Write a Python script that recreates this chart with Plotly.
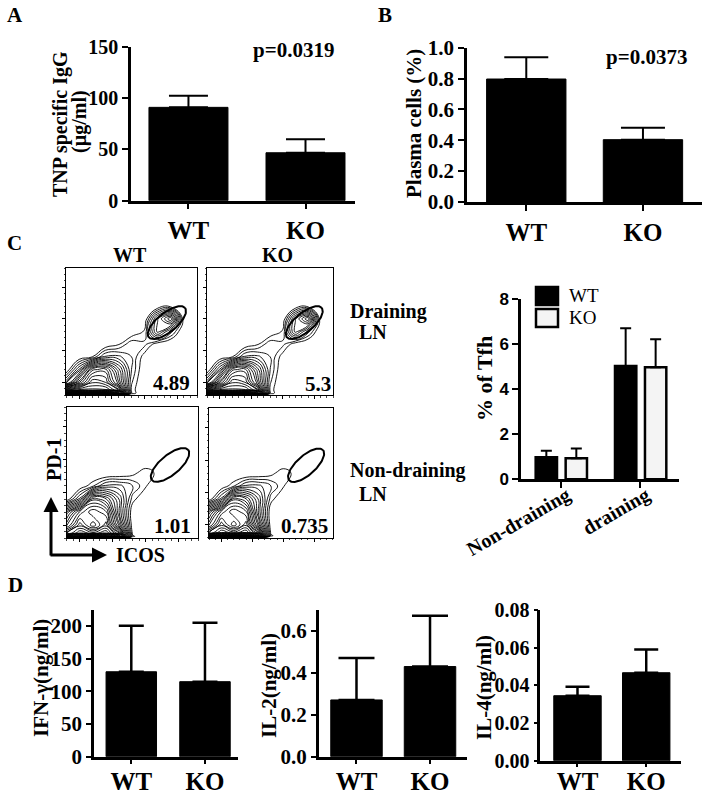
import numpy as np
import plotly.graph_objects as go

W, H = 708, 795
SERIF = "Liberation Serif"
SANS = "Liberation Sans"

# ---------------- data ----------------
groups = ["WT", "KO"]
tnp_igg = [91.1, 46.8]
tnp_igg_err = [11.4, 13.1]
plasma = [0.797, 0.404]
plasma_err = [0.141, 0.077]
tfh_sites = ["Non-draining", "draining"]
tfh_wt = [0.98, 5.03]
tfh_wt_err = [0.29, 1.67]
tfh_ko = [0.93, 4.97]
tfh_ko_err = [0.44, 1.24]
ifng = [130.0, 114.8]
ifng_err = [70.5, 90.0]
il2 = [0.27, 0.429]
il2_err = [0.20, 0.242]
il4 = [0.0345, 0.0467]
il4_err = [0.0048, 0.0123]

flow_pct = ["4.89", "5.3", "1.01", "0.735"]
flow_x = [0, 1, 2, 3, 4, 5, 6, 7, 8, 9, 10]
flow_y = [0, 0.15, 0.4, 1, 2, 3, 4, 5, 6, 7, 8, 10]
draining_density = [
    [0, 0, 0, 0, 0, 0, 0, 0, 0, 0, 0],
    [16, 18, 18, 18, 15, 1.5, 0, 0, 0, 0, 0],
    [11, 12, 12, 12, 10, 1.4, 0, 0, 0, 0, 0],
    [3.2, 7.5, 10.5, 10, 6.5, 1.7, 0, 0, 0, 0, 0],
    [0.2, 3.5, 8, 8.5, 5.5, 2.2, 0.2, 0, 0, 0, 0],
    [0, 0.4, 1.0, 3, 3, 2.2, 0.6, 0, 0, 0, 0],
    [0, 0, 0, 0.3, 0.9, 2.1, 1.8, 0.5, 0, 0, 0],
    [0, 0, 0, 0, 0, 0.3, 1.1, 5, 2.5, 0, 0],
    [0, 0, 0, 0, 0, 0, 0.3, 4.5, 7, 0.3, 0],
    [0, 0, 0, 0, 0, 0, 0, 0.3, 0.6, 0, 0],
    [0, 0, 0, 0, 0, 0, 0, 0, 0, 0, 0],
    [0, 0, 0, 0, 0, 0, 0, 0, 0, 0, 0],
]
nondraining_density = [
    [0, 0, 0, 0, 0, 0, 0, 0, 0, 0, 0],
    [16, 18, 18, 18, 15, 1.2, 0, 0, 0, 0, 0],
    [11, 13, 12, 13, 10, 0.8, 0, 0, 0, 0, 0],
    [8, 11, 9, 11, 6, 0.5, 0, 0, 0, 0, 0],
    [6, 9, 10.5, 9.5, 4.5, 0.4, 0, 0, 0, 0, 0],
    [0.4, 3, 8, 7, 4.5, 1.3, 0.2, 0, 0, 0, 0],
    [0, 0.4, 1.5, 3, 3, 2.2, 1.1, 0, 0, 0, 0],
    [0, 0, 0, 0, 0.2, 0.7, 1.5, 0.7, 0, 0, 0],
    [0, 0, 0, 0, 0, 0, 0, 0, 0, 0, 0],
    [0, 0, 0, 0, 0, 0, 0, 0, 0, 0, 0],
    [0, 0, 0, 0, 0, 0, 0, 0, 0, 0, 0],
    [0, 0, 0, 0, 0, 0, 0, 0, 0, 0, 0],
]
gate_center_top = (7.7, 5.7)
gate_center_bottom = (7.85, 5.6)
gate_semi_axes = (1.8, 0.75)
gate_angle_deg = 40


def X(px):
    return px / W


def Y(py):
    return 1 - py / H


fig = go.Figure()
layout = {}


def bar_axes(n, xdom, ydom, xrange, yrange, dtick, fmt, tickfont_size=20,
             xfont_size=25, standoff=None, shift=None, yfont=SERIF, cat_text=groups,
             xangle=0, xfam=SERIF, ticklen=6):
    xa = dict(domain=[X(xdom[0]), X(xdom[1])], range=xrange, anchor=f"y{n}",
              showline=True, linecolor="black", linewidth=2.5, ticks="outside",
              ticklen=ticklen, tickwidth=2, tickcolor="black", tickvals=[0, 1],
              ticktext=cat_text, showgrid=False, zeroline=False, automargin=False,
              tickangle=xangle,
              tickfont=dict(family=xfam, size=xfont_size, color="black", weight="bold"))
    if standoff is not None:
        xa["ticklabelstandoff"] = standoff
    if shift is not None:
        xa["ticklabelshift"] = shift
    ya = dict(domain=[Y(ydom[0]), Y(ydom[1])], range=yrange, anchor=f"x{n}",
              showline=True, linecolor="black", linewidth=2.5, ticks="outside",
              ticklen=ticklen, tickwidth=2, tickcolor="black", dtick=dtick, tick0=0,
              tickformat=fmt, showgrid=False, zeroline=False, automargin=False,
              tickfont=dict(family=yfont, size=tickfont_size, color="black", weight="bold"))
    layout["xaxis" if n == 1 else f"xaxis{n}"] = xa
    layout["yaxis" if n == 1 else f"yaxis{n}"] = ya


def add_bar(n, vals, errs, width, capw, thick=2, fill="black"):
    fig.add_trace(go.Bar(
        x=[0, 1], y=vals, width=width, xaxis=f"x{n}", yaxis=f"y{n}",
        marker=dict(color=fill, line=dict(color="black", width=1)),
        error_y=dict(type="data", symmetric=False, array=errs, arrayminus=[0, 0],
                     color="black", thickness=thick, width=capw),
        showlegend=False, hoverinfo="skip"))


# Panel A
bar_axes(1, (131, 355), (200.7, 47), [-0.491, 1.423], [0, 150], 50, "d",
         tickfont_size=20)
add_bar(1, tnp_igg, tnp_igg_err, 0.675, 19.5)
# Panel B
bar_axes(2, (467, 702), (202, 47.7), [-0.508, 1.506], [0, 1.0], 0.2, ".1f",
         tickfont_size=21)
add_bar(2, plasma, plasma_err, 0.68, 22)
# Panel C bar
bar_axes(3, (521, 679), (479.3, 299), [-0.504, 1.488], [0, 8], 2, "d",
         tickfont_size=17, yfont=SANS, cat_text=tfh_sites, xangle=-30,
         xfont_size=20, standoff=-12, shift=6)
for vals, errs, fill, off in [(tfh_wt, tfh_wt_err, "black", -0.319),
                              (tfh_ko, tfh_ko_err, "#f4f4f4", 0.059)]:
    fig.add_trace(go.Bar(
        x=[0, 1], y=vals, width=0.269, offset=off, xaxis="x3", yaxis="y3",
        marker=dict(color=fill, line=dict(color="black", width=2.5)),
        error_y=dict(type="data", symmetric=False, array=errs, arrayminus=[0, 0],
                     color="black", thickness=2, width=5.5),
        showlegend=False, hoverinfo="skip"))
# Panel D
bar_axes(4, (94, 238), (756.7, 610), [-0.506, 1.448], [0, 224.5], 50, "d",
         tickfont_size=21, standoff=-4, ticklen=5)
add_bar(4, ifng, ifng_err, 0.685, 12.5, thick=2.5)
bar_axes(5, (318.7, 467), (756.7, 610), [-0.514, 1.503], [0, 0.698], 0.2, ".1f",
         tickfont_size=21, standoff=-4, ticklen=5)
add_bar(5, il2, il2_err, 0.70, 18, thick=2.5)
bar_axes(6, (540.3, 681), (760.7, 610), [-0.541, 1.506], [0, 0.08], 0.02, ".2f",
         tickfont_size=20, standoff=-7, ticklen=4)
add_bar(6, il4, il4_err, 0.69, 12, thick=2.5)

# Flow plots
flow_boxes = [
    (7, (66, 197), (395, 268), draining_density, gate_center_top),
    (8, (207, 333.3), (395, 268), draining_density, gate_center_top),
    (9, (66.7, 198.3), (538.3, 407.3), nondraining_density, gate_center_bottom),
    (10, (209, 332.7), (537.7, 408.3), nondraining_density, gate_center_bottom),
]
t = np.linspace(0, 2 * np.pi, 120)
for n, xd, yd, dens, gc in flow_boxes:
    common = dict(showline=True, linecolor="black", linewidth=1, mirror=True,
                  showgrid=False, zeroline=False, showticklabels=False,
                  automargin=False,
                  ticks="outside", ticklen=3, tickcolor="black", tickwidth=1,
                  tickvals=[1, 3.5, 6, 8.5], range=[0, 10],
                  minor=dict(ticks="outside", ticklen=1.5, dtick=0.5, tickcolor="#444"))
    layout[f"xaxis{n}"] = dict(domain=[X(xd[0]), X(xd[1])], anchor=f"y{n}", **common)
    layout[f"yaxis{n}"] = dict(domain=[Y(yd[0]), Y(yd[1])], anchor=f"x{n}", **common)
    fig.add_trace(go.Contour(
        x=flow_x, y=flow_y, z=dens, xaxis=f"x{n}", yaxis=f"y{n}",
        contours=dict(start=1, end=18, size=0.6, coloring="lines"),
        line=dict(width=0.9, smoothing=1.3),
        colorscale=[[0, "black"], [1, "black"]], showscale=False,
        hoverinfo="skip"))
    a, b = gate_semi_axes
    ang = np.deg2rad(gate_angle_deg)
    ex = gc[0] + a * np.cos(t) * np.cos(ang) - b * np.sin(t) * np.sin(ang)
    ey = gc[1] + a * np.cos(t) * np.sin(ang) + b * np.sin(t) * np.cos(ang)
    fig.add_trace(go.Scatter(x=ex, y=ey, mode="lines", xaxis=f"x{n}", yaxis=f"y{n}",
                             line=dict(color="black", width=2), showlegend=False,
                             hoverinfo="skip"))

# ---------------- annotations ----------------
ann = []


def text(s, px, py, size, angle=0, xanchor="center", bold=True, fam=SERIF):
    ann.append(dict(text=s, x=X(px), y=Y(py), xref="paper", yref="paper",
                    showarrow=False, textangle=angle, xanchor=xanchor,
                    yanchor="middle",
                    font=dict(family=fam, size=size, color="black",
                              weight="bold" if bold else "normal")))


text("A", 15, 15, 21)
text("B", 385, 15, 21)
text("C", 14, 243, 21)
text("D", 15, 585, 21)
text("TNP specific IgG", 61, 124, 20, angle=-90)
text("(µg/ml)", 80, 122, 20, angle=-90)
text("p=0.0319", 293, 50, 21)
text("Plasma cells (%)", 414, 124, 21, angle=-90)
text("p=0.0373", 646, 57, 21)
text("WT", 130, 255, 20)
text("KO", 277, 255, 20)
text("Draining", 348, 311, 20, xanchor="left")
text("LN", 357, 332, 20, xanchor="left")
text("Non-draining", 348, 470, 20, xanchor="left")
text("LN", 357, 494, 20, xanchor="left")
text("PD-1", 54, 460, 20, angle=-90)
text("ICOS", 114, 555, 20, xanchor="left")
for s, (px, py) in zip(flow_pct, [(192, 383), (333, 384), (193, 526), (330, 526)]):
    ann.append(dict(text=s, x=X(px), y=Y(py), xref="paper", yref="paper",
                    showarrow=False, xanchor="right", yanchor="middle",
                    font=dict(family=SERIF, size=21, color="black", weight="bold")))
text("% of Tfh", 484, 379, 22, angle=-90)
text("WT", 567, 296, 19, xanchor="left", bold=False)
text("KO", 567, 317, 19, xanchor="left", bold=False)
text("IFN-γ(ng/ml)", 41, 678, 21, angle=-90)
text("IL-2(ng/ml)", 269, 686, 21, angle=-90)
text("IL-4(ng/ml)", 484, 688, 21, angle=-90)

# axis arrows
ann.append(dict(x=X(51), y=Y(497), xref="paper", yref="paper", ax=0, ay=60,
                text="", showarrow=True, arrowhead=2, arrowsize=1, arrowwidth=3,
                arrowcolor="black"))
ann.append(dict(x=X(107), y=Y(555), xref="paper", yref="paper", ax=-58, ay=0,
                text="", showarrow=True, arrowhead=2, arrowsize=1, arrowwidth=3,
                arrowcolor="black"))

shapes = [
    dict(type="rect", xref="paper", yref="paper", x0=X(536), x1=X(558),
         y0=Y(305), y1=Y(287), fillcolor="black", line=dict(color="black", width=2.5)),
    dict(type="rect", xref="paper", yref="paper", x0=X(536), x1=X(558),
         y0=Y(327), y1=Y(309), fillcolor="#f4f4f4", line=dict(color="black", width=2.5)),
]

fig.update_layout(**layout)
fig.update_layout(template="none", width=W, height=H,
                  margin=dict(l=0, r=0, t=0, b=0, autoexpand=False),
                  paper_bgcolor="white", plot_bgcolor="white",
                  bargap=0.3, annotations=ann, shapes=shapes, showlegend=False)
fig.write_html("out.html", config={"displayModeBar": False},
               post_script="document.body.style.margin='0';document.body.style.padding='0';")
